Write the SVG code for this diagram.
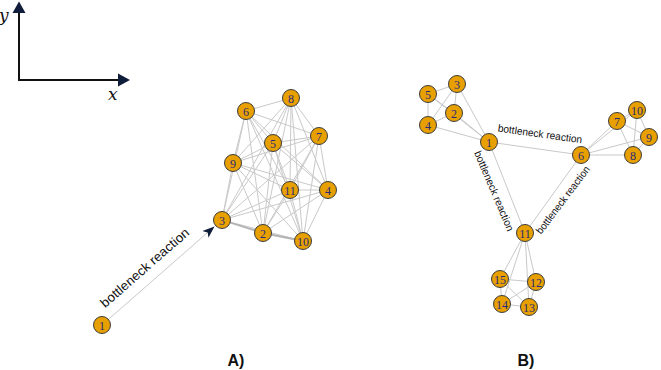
<svg xmlns="http://www.w3.org/2000/svg" width="661" height="370" viewBox="0 0 661 370">
<defs>
<style>
.e{stroke:#c9c9c9;stroke-width:1;fill:none}
.eb{stroke:#b3b3b3;stroke-width:1.8;fill:none}
.n circle{fill:#E8A000;stroke:#3c3c3c;stroke-width:1}
.n text{font-family:"Liberation Serif",serif;font-size:12px;fill:#2a2a78;text-anchor:middle}
.lbl{font-family:"Liberation Sans",Arial,sans-serif;fill:#111;text-anchor:middle}
.ax{stroke:#111;stroke-width:2}
.ah{fill:#0f1c3a}
.math{font-family:"DejaVu Serif","Liberation Serif",serif;font-style:italic;font-size:17px;fill:#111}
.cap{font-family:"Liberation Sans",Arial,sans-serif;font-weight:bold;font-size:16px;fill:#111;text-anchor:middle}
</style>
<marker id="arr" markerUnits="userSpaceOnUse" markerWidth="13" markerHeight="10" refX="12" refY="4.5" orient="auto">
<path d="M0,0 L12,4.5 L0,9 L3,4.5 z" fill="#0f1c3a"/>
</marker>
</defs>
<rect width="661" height="370" fill="#ffffff"/>

<g id="axes">
<line class="ax" x1="19" y1="80" x2="19" y2="12"/>
<polygon class="ah" points="12.5,13 25.5,13 19,1.5"/>
<line class="ax" x1="18" y1="80" x2="119" y2="80"/>
<polygon class="ah" points="118,73.5 118,86.5 130,80"/>
<text class="math" x="-1" y="21">y</text>
<text class="math" x="108" y="100">x</text>
</g>

<g id="connectors">
<!-- left graph: dense cluster among 2..11 -->
<line class="e" x1="246" y1="111" x2="291" y2="98"/>
<line class="e" x1="246" y1="111" x2="319" y2="136"/>
<line class="e" x1="246" y1="111" x2="273" y2="143"/>
<line class="e" x1="246" y1="111" x2="233" y2="163"/>
<line class="e" x1="246" y1="111" x2="290" y2="190"/>
<line class="e" x1="246" y1="111" x2="328" y2="190"/>
<line class="e" x1="246" y1="111" x2="222" y2="220"/>
<line class="e" x1="246" y1="111" x2="263" y2="233"/>
<line class="e" x1="246" y1="111" x2="303" y2="241"/>
<line class="e" x1="291" y1="98" x2="319" y2="136"/>
<line class="e" x1="291" y1="98" x2="273" y2="143"/>
<line class="e" x1="291" y1="98" x2="233" y2="163"/>
<line class="e" x1="291" y1="98" x2="290" y2="190"/>
<line class="e" x1="291" y1="98" x2="328" y2="190"/>
<line class="e" x1="291" y1="98" x2="222" y2="220"/>
<line class="e" x1="291" y1="98" x2="263" y2="233"/>
<line class="e" x1="291" y1="98" x2="303" y2="241"/>
<line class="e" x1="319" y1="136" x2="273" y2="143"/>
<line class="e" x1="319" y1="136" x2="233" y2="163"/>
<line class="e" x1="319" y1="136" x2="290" y2="190"/>
<line class="e" x1="319" y1="136" x2="328" y2="190"/>
<line class="e" x1="319" y1="136" x2="222" y2="220"/>
<line class="e" x1="319" y1="136" x2="263" y2="233"/>
<line class="e" x1="319" y1="136" x2="303" y2="241"/>
<line class="e" x1="273" y1="143" x2="233" y2="163"/>
<line class="e" x1="273" y1="143" x2="290" y2="190"/>
<line class="e" x1="273" y1="143" x2="328" y2="190"/>
<line class="e" x1="273" y1="143" x2="222" y2="220"/>
<line class="e" x1="273" y1="143" x2="263" y2="233"/>
<line class="e" x1="273" y1="143" x2="303" y2="241"/>
<line class="e" x1="233" y1="163" x2="290" y2="190"/>
<line class="e" x1="233" y1="163" x2="328" y2="190"/>
<line class="e" x1="233" y1="163" x2="222" y2="220"/>
<line class="e" x1="233" y1="163" x2="263" y2="233"/>
<line class="e" x1="233" y1="163" x2="303" y2="241"/>
<line class="e" x1="290" y1="190" x2="328" y2="190"/>
<line class="e" x1="290" y1="190" x2="222" y2="220"/>
<line class="e" x1="290" y1="190" x2="263" y2="233"/>
<line class="e" x1="290" y1="190" x2="303" y2="241"/>
<line class="e" x1="328" y1="190" x2="222" y2="220"/>
<line class="e" x1="328" y1="190" x2="263" y2="233"/>
<line class="e" x1="328" y1="190" x2="303" y2="241"/>
<line class="e" x1="222" y1="220" x2="303" y2="241"/>
<line class="eb" x1="222" y1="220" x2="263" y2="233"/>
<line class="eb" x1="263" y1="233" x2="303" y2="241"/>
<!-- bottleneck arrow 1 -> 3 -->
<line class="e" x1="102" y1="325" x2="214.5" y2="226.5" marker-end="url(#arr)"/>

<!-- right graph cluster 1..5 -->
<line class="e" x1="428" y1="94" x2="457" y2="84"/>
<line class="e" x1="428" y1="94" x2="454" y2="113"/>
<line class="e" x1="428" y1="94" x2="428" y2="125"/>
<line class="e" x1="428" y1="94" x2="489" y2="142"/>
<line class="e" x1="457" y1="84" x2="454" y2="113"/>
<line class="e" x1="457" y1="84" x2="428" y2="125"/>
<line class="e" x1="457" y1="84" x2="489" y2="142"/>
<line class="e" x1="454" y1="113" x2="428" y2="125"/>
<line class="e" x1="454" y1="113" x2="489" y2="142"/>
<line class="e" x1="428" y1="125" x2="489" y2="142"/>
<!-- cluster 6..10 -->
<line class="e" x1="581" y1="155" x2="617" y2="121"/>
<line class="e" x1="581" y1="155" x2="637" y2="110"/>
<line class="e" x1="581" y1="155" x2="649" y2="137"/>
<line class="e" x1="581" y1="155" x2="633" y2="155"/>
<line class="e" x1="617" y1="121" x2="637" y2="110"/>
<line class="e" x1="617" y1="121" x2="649" y2="137"/>
<line class="e" x1="617" y1="121" x2="633" y2="155"/>
<line class="e" x1="637" y1="110" x2="649" y2="137"/>
<line class="e" x1="637" y1="110" x2="633" y2="155"/>
<line class="e" x1="649" y1="137" x2="633" y2="155"/>
<!-- cluster 11..15 -->
<line class="e" x1="525" y1="233" x2="500" y2="279"/>
<line class="e" x1="525" y1="233" x2="536" y2="282"/>
<line class="e" x1="525" y1="233" x2="502" y2="304"/>
<line class="e" x1="525" y1="233" x2="529" y2="307"/>
<line class="e" x1="500" y1="279" x2="536" y2="282"/>
<line class="e" x1="500" y1="279" x2="502" y2="304"/>
<line class="e" x1="500" y1="279" x2="529" y2="307"/>
<line class="e" x1="536" y1="282" x2="502" y2="304"/>
<line class="e" x1="536" y1="282" x2="529" y2="307"/>
<line class="e" x1="502" y1="304" x2="529" y2="307"/>
<!-- bottleneck edges -->
<line class="e" x1="489" y1="142" x2="581" y2="155"/>
<line class="e" x1="489" y1="142" x2="525" y2="233"/>
<line class="e" x1="581" y1="155" x2="525" y2="233"/>
</g>

<g id="labels">
<text class="lbl" font-size="13" textLength="113" lengthAdjust="spacingAndGlyphs" transform="translate(145,268) rotate(-41.2)" y="4">bottleneck reaction</text>
<text class="lbl" font-size="10.5" textLength="85" lengthAdjust="spacingAndGlyphs" transform="translate(540,134) rotate(8)" y="3.5">bottleneck reaction</text>
<text class="lbl" font-size="10.5" textLength="86" lengthAdjust="spacingAndGlyphs" transform="translate(494,191) rotate(67)" y="3.5">bottleneck reaction</text>
<text class="lbl" font-size="10.5" textLength="82" lengthAdjust="spacingAndGlyphs" transform="translate(563,200) rotate(-53)" y="3.5">bottleneck reaction</text>
<text class="cap" x="236" y="366">A)</text>
<text class="cap" x="526" y="366">B)</text>
</g>

<g id="nodeA1" class="n"><circle cx="102" cy="325" r="8.5"/><text x="102" y="329.5">1</text></g>
<g id="nodeA2" class="n"><circle cx="263" cy="233" r="8.5"/><text x="263" y="237.5">2</text></g>
<g id="nodeA3" class="n"><circle cx="222" cy="220" r="8.5"/><text x="222" y="224.5">3</text></g>
<g id="nodeA4" class="n"><circle cx="328" cy="190" r="8.5"/><text x="328" y="194.5">4</text></g>
<g id="nodeA5" class="n"><circle cx="273" cy="143" r="8.5"/><text x="273" y="147.5">5</text></g>
<g id="nodeA6" class="n"><circle cx="246" cy="111" r="8.5"/><text x="246" y="115.5">6</text></g>
<g id="nodeA7" class="n"><circle cx="319" cy="136" r="8.5"/><text x="319" y="140.5">7</text></g>
<g id="nodeA8" class="n"><circle cx="291" cy="98" r="8.5"/><text x="291" y="102.5">8</text></g>
<g id="nodeA9" class="n"><circle cx="233" cy="163" r="8.5"/><text x="233" y="167.5">9</text></g>
<g id="nodeA10" class="n"><circle cx="303" cy="241" r="8.5"/><text x="303" y="245.5">10</text></g>
<g id="nodeA11" class="n"><circle cx="290" cy="190" r="8.5"/><text x="290" y="194.5">11</text></g>

<g id="nodeB1" class="n"><circle cx="489" cy="142" r="8.5"/><text x="489" y="146.5">1</text></g>
<g id="nodeB2" class="n"><circle cx="454" cy="113" r="8.5"/><text x="454" y="117.5">2</text></g>
<g id="nodeB3" class="n"><circle cx="457" cy="84" r="8.5"/><text x="457" y="88.5">3</text></g>
<g id="nodeB4" class="n"><circle cx="428" cy="125" r="8.5"/><text x="428" y="129.5">4</text></g>
<g id="nodeB5" class="n"><circle cx="428" cy="94" r="8.5"/><text x="428" y="98.5">5</text></g>
<g id="nodeB6" class="n"><circle cx="581" cy="155" r="8.5"/><text x="581" y="159.5">6</text></g>
<g id="nodeB7" class="n"><circle cx="617" cy="121" r="8.5"/><text x="617" y="125.5">7</text></g>
<g id="nodeB8" class="n"><circle cx="633" cy="155" r="8.5"/><text x="633" y="159.5">8</text></g>
<g id="nodeB9" class="n"><circle cx="649" cy="137" r="8.5"/><text x="649" y="141.5">9</text></g>
<g id="nodeB10" class="n"><circle cx="637" cy="110" r="8.5"/><text x="637" y="114.5">10</text></g>
<g id="nodeB11" class="n"><circle cx="525" cy="233" r="8.5"/><text x="525" y="237.5">11</text></g>
<g id="nodeB12" class="n"><circle cx="536" cy="282" r="8.5"/><text x="536" y="286.5">12</text></g>
<g id="nodeB13" class="n"><circle cx="529" cy="307" r="8.5"/><text x="529" y="311.5">13</text></g>
<g id="nodeB14" class="n"><circle cx="502" cy="304" r="8.5"/><text x="502" y="308.5">14</text></g>
<g id="nodeB15" class="n"><circle cx="500" cy="279" r="8.5"/><text x="500" y="283.5">15</text></g>
</svg>
